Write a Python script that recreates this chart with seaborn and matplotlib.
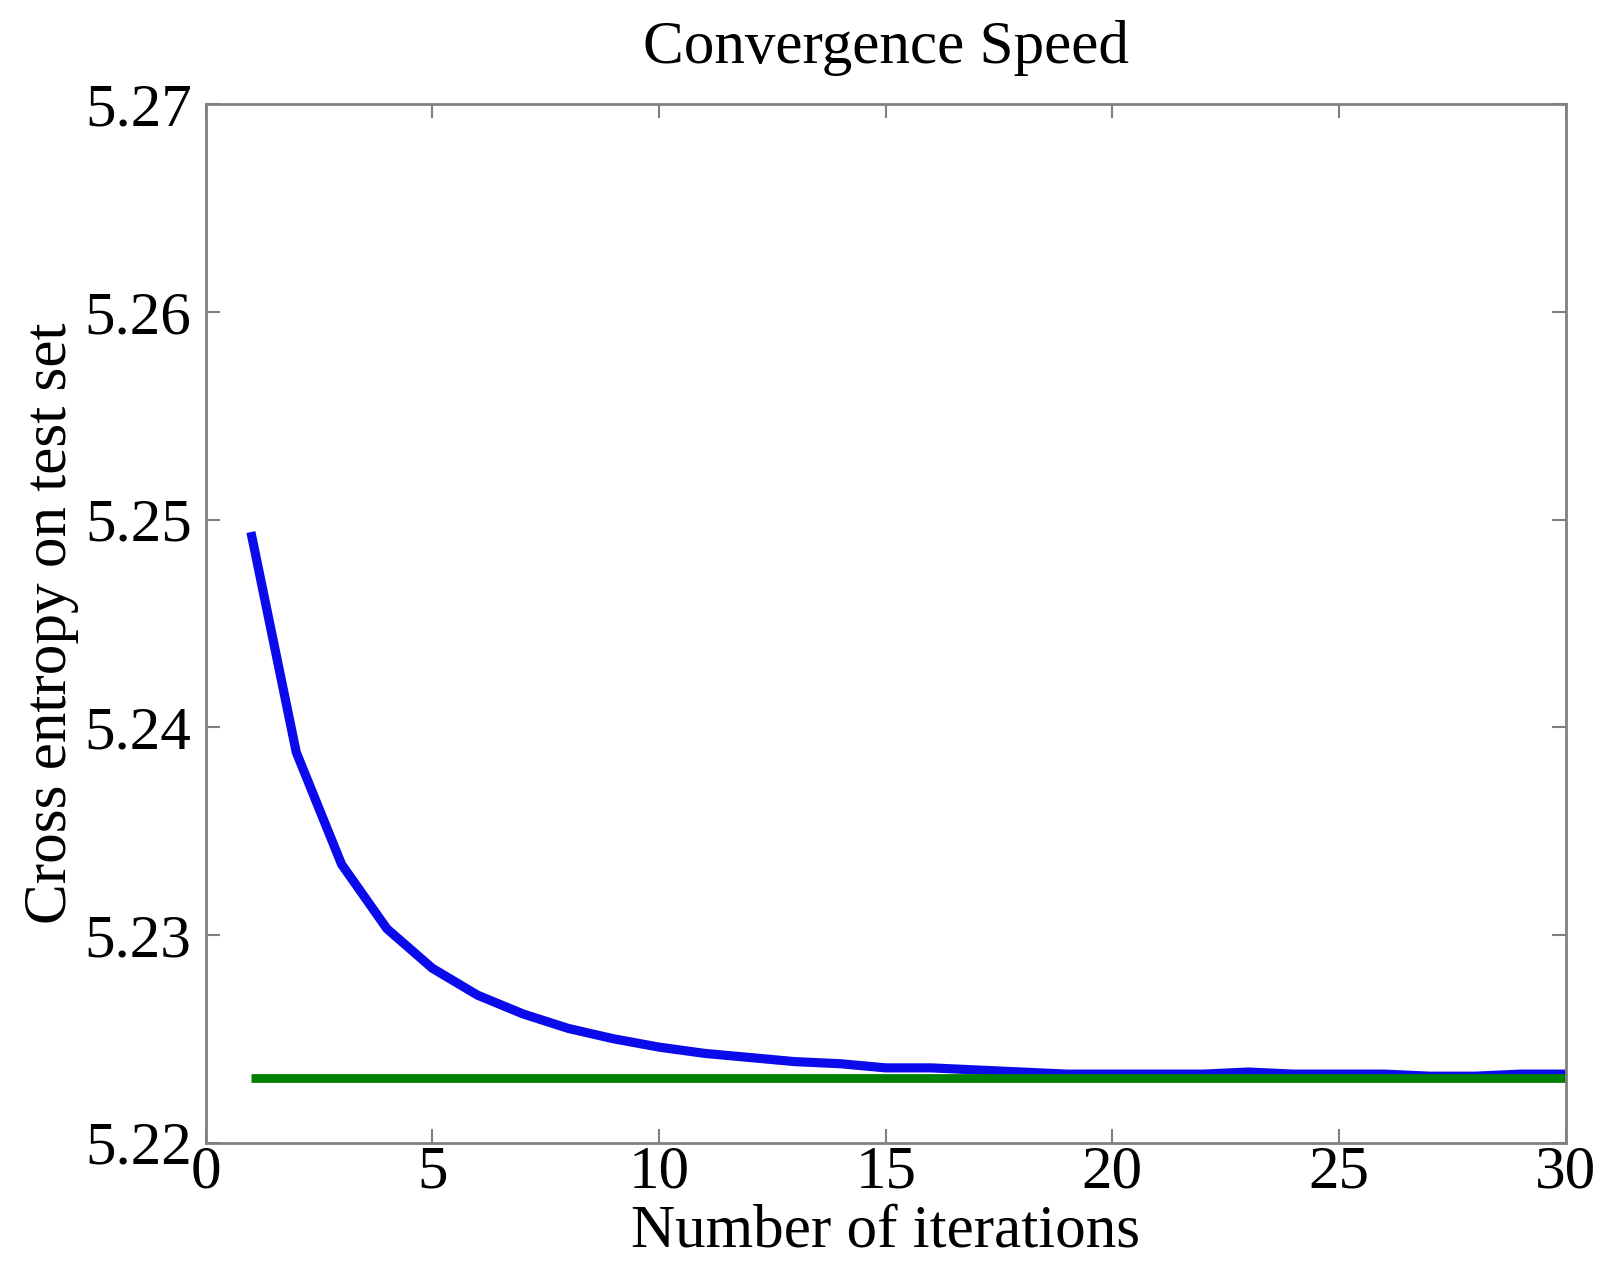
import numpy as np
import pandas as pd
import matplotlib
matplotlib.use("Agg")
import matplotlib.pyplot as plt
import seaborn as sns

# Data
iterations = list(range(1, 31))
cross_entropy = [5.2494, 5.2388, 5.2334, 5.2303, 5.2284, 5.2271, 5.2262, 5.2255,
                 5.2250, 5.2246, 5.2243, 5.2241, 5.2239, 5.2238, 5.2236, 5.2236,
                 5.2235, 5.2234, 5.2233, 5.2233, 5.2233, 5.2233, 5.2234, 5.2233,
                 5.2233, 5.2233, 5.2232, 5.2232, 5.2233, 5.2233]
baseline = [5.2231] * 30

x_ticks = [0, 5, 10, 15, 20, 25, 30]
y_ticks = [5.22, 5.23, 5.24, 5.25, 5.26, 5.27]

df = pd.DataFrame({"iter": iterations, "ce": cross_entropy, "base": baseline})

sns.set_theme(style="white")
plt.rcParams['font.family'] = ['Liberation Serif', 'DejaVu Serif']

fig = plt.figure(figsize=(16.01, 12.73), dpi=100)
ax = fig.add_axes([0.1284, 0.1024, 0.8496, 0.8157])

sns.lineplot(data=df, x="iter", y="ce", ax=ax, color="#0a0aeb", linewidth=6.6,
             solid_capstyle="butt")
sns.lineplot(data=df, x="iter", y="base", ax=ax, color="#008000", linewidth=6.3,
             solid_capstyle="butt")

ax.set_xlim(0, 30)
ax.set_ylim(5.22, 5.27)
ax.set_xticks(x_ticks)
ax.set_yticks(y_ticks)
ax.set_xticklabels([str(t) for t in x_ticks])
ax.set_yticklabels([f"{t:.2f}" for t in y_ticks])

fs = 44
ax.tick_params(axis="both", which="both", direction="in", length=10, width=1.5,
               color="#808080", labelsize=fs, labelcolor="black",
               top=True, right=True, bottom=True, left=True)
ax.tick_params(axis="x", pad=2)
ax.tick_params(axis="y", pad=10)
for sp in ax.spines.values():
    sp.set_visible(True)
    sp.set_color("#808080")
    sp.set_linewidth(2.0)

ax.set_xlabel("Number of iterations", fontsize=fs, labelpad=2, color="black")
ax.set_ylabel("Cross entropy on test set", fontsize=fs, labelpad=4, color="black")
ax.set_title("Convergence Speed", fontsize=fs, pad=30, color="black")
ax.grid(False)

fig.savefig("out.png", dpi=100, facecolor="white")
